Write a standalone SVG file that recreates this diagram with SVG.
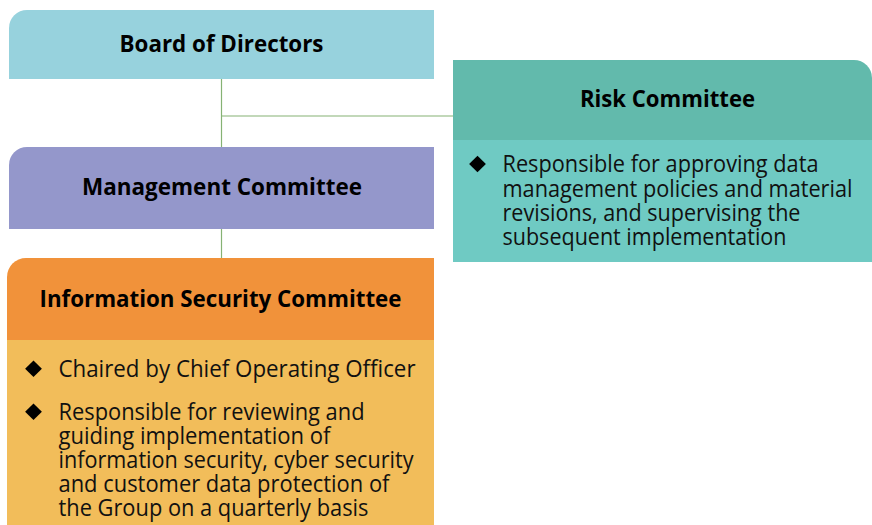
<svg xmlns="http://www.w3.org/2000/svg" width="872" height="525" viewBox="0 0 872 525">
<style>
.t{font-family:"Open Sans","Noto Sans","Liberation Sans",sans-serif;font-weight:bold;font-size:23px;fill:#000;text-anchor:middle}
.b{font-family:"Open Sans","Noto Sans","Liberation Sans",sans-serif;font-size:22.8px;fill:#111}
.c{stroke:#86B274;stroke-width:1.2;fill:none}
</style>
<defs>
<polygon id="dm" points="0,-8.2 8.4,0 0,8.2 -8.4,0" fill="#000"/>
</defs>
<rect width="872" height="525" fill="#fff"/>
<g id="connectors">
<path class="c" d="M221.5,79 V147"/>
<path class="c" d="M221.5,116 H453"/>
<path class="c" d="M221.5,229 V258"/>
</g>
<g id="board">
<path d="M9,79 V28 A18,18 0 0 1 27,10 H434 V79 Z" fill="#97D2DD"/>
<text class="t" x="221.5" y="52" textLength="204" lengthAdjust="spacingAndGlyphs">Board of Directors</text>
</g>
<g id="risk">
<path d="M453,140 V60 H854 A18,18 0 0 1 872,78 V140 Z" fill="#62BAAC"/>
<rect x="453" y="140" width="419" height="122" fill="#6FCAC3"/>
<text class="t" x="667.5" y="107" textLength="175" lengthAdjust="spacingAndGlyphs">Risk Committee</text>
<use href="#dm" x="477.5" y="164"/>
<text class="b"><tspan x="502.5" y="172" textLength="316" lengthAdjust="spacingAndGlyphs">Responsible for approving data</tspan><tspan x="502.5" y="196.5" textLength="350" lengthAdjust="spacingAndGlyphs">management policies and material</tspan><tspan x="502.5" y="220.5" textLength="298" lengthAdjust="spacingAndGlyphs">revisions, and supervising the</tspan><tspan x="502.5" y="244.5" textLength="284" lengthAdjust="spacingAndGlyphs">subsequent implementation</tspan></text>
</g>
<g id="management">
<path d="M9,229 V165 A18,18 0 0 1 27,147 H434 V229 Z" fill="#9497CB"/>
<text class="t" x="222" y="195" textLength="280" lengthAdjust="spacingAndGlyphs">Management Committee</text>
</g>
<g id="isc">
<path d="M7,340 V277 A19,19 0 0 1 26,258 H434 V340 Z" fill="#F1923A"/>
<rect x="7" y="340" width="427" height="185" fill="#F2BD5A"/>
<text class="t" x="220.5" y="306.5" textLength="362" lengthAdjust="spacingAndGlyphs">Information Security Committee</text>
<use href="#dm" x="33.5" y="368.7"/>
<text class="b" x="58.5" y="376.5" textLength="357" lengthAdjust="spacingAndGlyphs">Chaired by Chief Operating Officer</text>
<use href="#dm" x="33.5" y="411.8"/>
<text class="b"><tspan x="58.5" y="420.3" textLength="306" lengthAdjust="spacingAndGlyphs">Responsible for reviewing and</tspan><tspan x="58.5" y="444.3" textLength="272" lengthAdjust="spacingAndGlyphs">guiding implementation of</tspan><tspan x="58.5" y="468.3" textLength="355" lengthAdjust="spacingAndGlyphs">information security, cyber security</tspan><tspan x="58.5" y="492.3" textLength="331" lengthAdjust="spacingAndGlyphs">and customer data protection of</tspan><tspan x="58.5" y="516" textLength="310" lengthAdjust="spacingAndGlyphs">the Group on a quarterly basis</tspan></text>
</g>
</svg>
